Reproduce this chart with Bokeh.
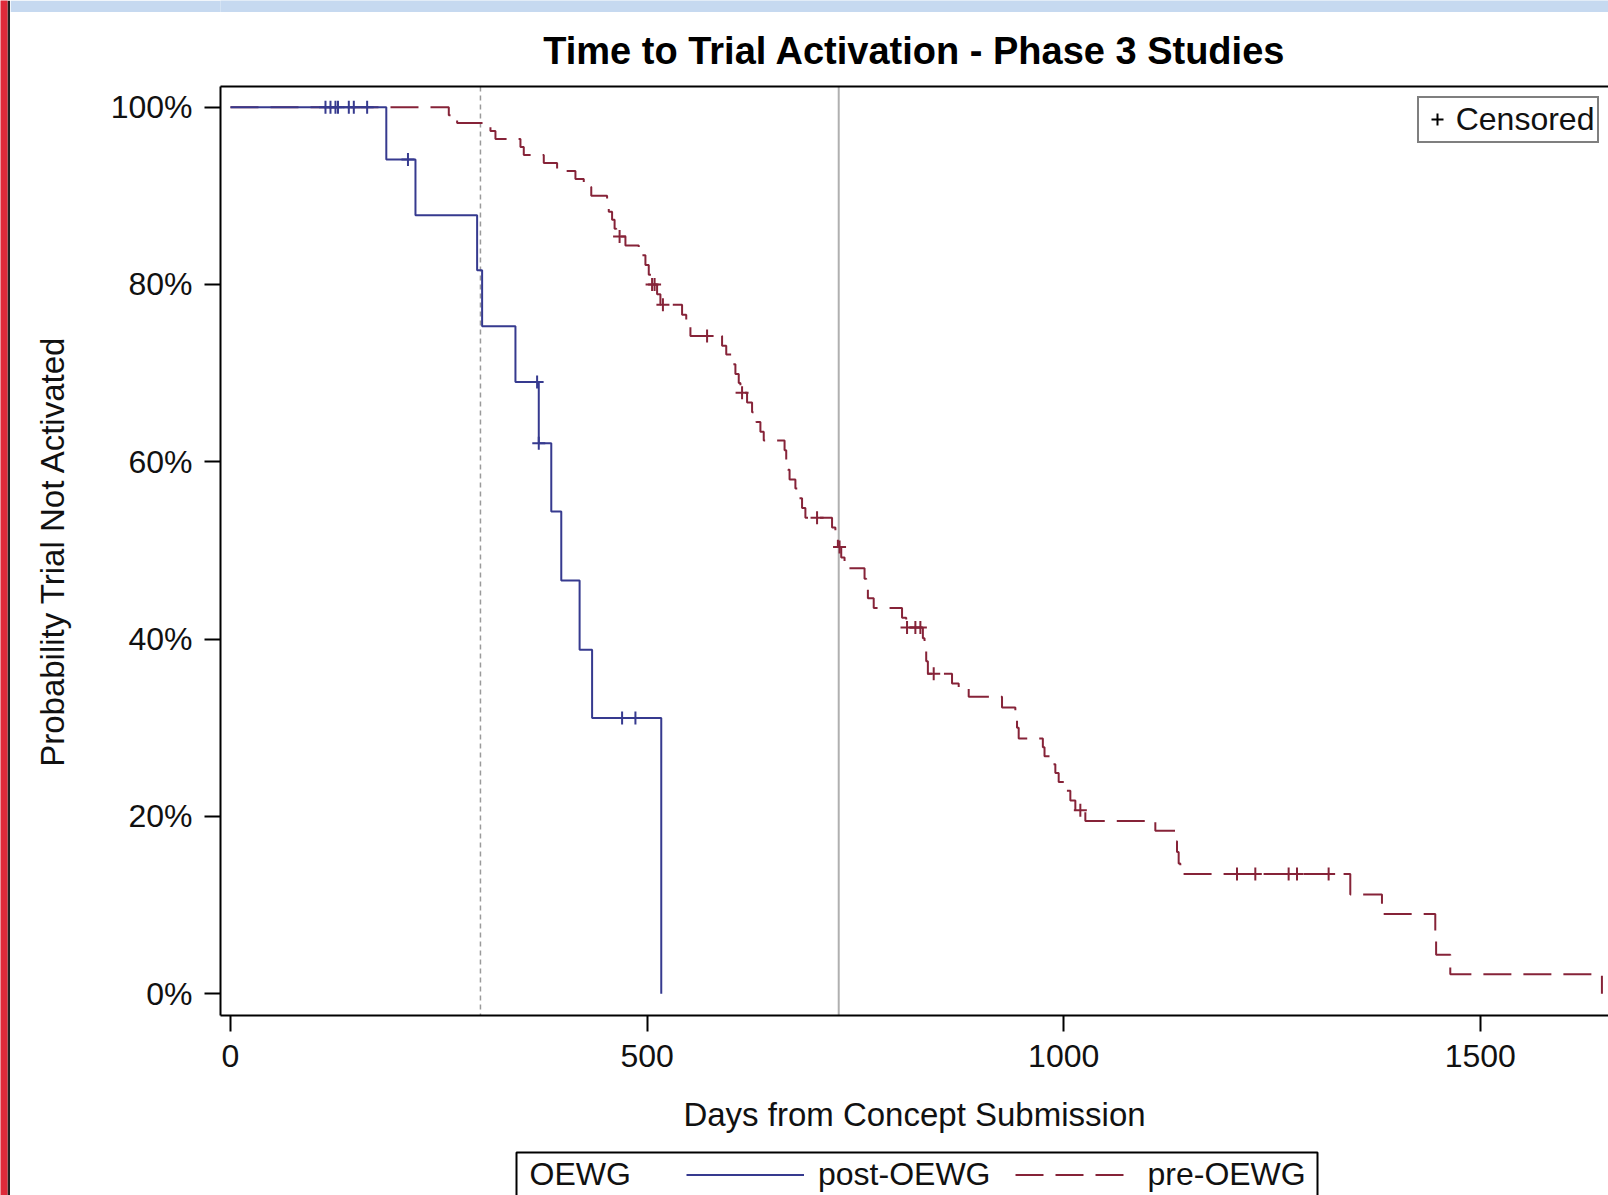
from bokeh.plotting import figure
from bokeh.layouts import row, column
from bokeh.models import (Range1d, LinearAxis, FixedTicker, PrintfTickFormatter, Span,
                          Legend, LegendItem, Label, BoxAnnotation)
from bokeh.embed import file_html
from bokeh.resources import INLINE

# ---------------- data ----------------
post_times = [0, 187, 222, 296, 302, 342, 370, 385, 397, 419, 434, 517]
post_surv = [100.0, 94.1, 87.8, 81.6, 75.3, 69.0, 62.1, 54.4, 46.6, 38.8, 31.1, 0.0]
post_cens_times = [114, 120, 126, 129, 142, 148, 164, 213, 368, 370, 470, 486]
post_cens_surv = [100.0, 100.0, 100.0, 100.0, 100.0, 100.0, 100.0, 94.1, 69.0, 62.1, 31.1, 31.1]

pre_times = [0, 262, 272, 312, 318, 348, 352, 376, 392, 414, 424, 433, 452, 454, 458, 461, 463,
             474, 490, 498, 502, 505, 512, 516, 542, 547, 552, 590, 595, 601, 606, 610, 612,
             620, 626, 631, 636, 640, 665, 667, 669, 671, 678, 682, 686, 690, 722, 726, 729,
             733, 737, 761, 763, 765, 772, 806, 811, 831, 833, 835, 837, 866, 874, 886, 926,
             942, 944, 946, 975, 977, 987, 990, 994, 1003, 1008, 1014, 1026, 1110, 1134, 1136,
             1138, 1140, 1344, 1382, 1446, 1447, 1464, 1646]
pre_surv = [100.0, 99.1, 98.2, 97.3, 96.4, 95.5, 94.6, 93.7, 92.8, 91.9, 91.0, 90.0, 89.1, 88.2,
            87.3, 86.3, 85.4, 84.4, 83.3, 82.2, 81.1, 80.0, 78.9, 77.7, 76.6, 75.4, 74.2, 73.1,
            72.1, 71.0, 69.9, 68.9, 67.8, 66.7, 65.6, 64.5, 63.4, 62.4, 61.3, 60.2, 59.1, 58.0,
            57.0, 55.9, 54.8, 53.7, 52.6, 51.5, 50.4, 49.2, 48.0, 46.8, 45.7, 44.6, 43.5, 42.4,
            41.3, 40.1, 38.9, 37.5, 36.1, 35.0, 34.5, 33.5, 32.3, 31.2, 30.0, 28.8, 27.8, 26.8,
            25.9, 24.9, 23.9, 22.9, 21.8, 20.7, 19.5, 18.4, 17.2, 16.0, 14.7, 13.5, 11.2, 9.0,
            6.7, 4.4, 2.2, 0.0]
pre_cens_times = [467, 506, 509, 519, 572, 614, 704, 731, 812, 822, 828, 844, 1020,
                  1208, 1230, 1270, 1280, 1318]
pre_cens_surv = [85.4, 80.0, 80.0, 77.7, 74.2, 67.8, 53.7, 50.4, 41.3, 41.3, 41.3, 36.1, 20.7,
                 13.5, 13.5, 13.5, 13.5, 13.5]

ref_dotted = 300
ref_solid = 730

y_ticks = [0, 20, 40, 60, 80, 100]
x_ticks = [0, 500, 1000, 1500]

title_text = "Time to Trial Activation - Phase 3 Studies"
x_label = "Days from Concept Submission"
y_label = "Probability Trial Not Activated"
group_title = "OEWG"
post_label = "post-OEWG"
pre_label = "pre-OEWG"
cens_label = "Censored"

# ---------------- styling ----------------
BLUE = "#363a8f"
RED = "#862338"
FONT = "Liberation Sans"
TXT = "#111111"

# main chart: occupies window x 10..1608, y 12..1149
p = figure(frame_width=1388, frame_height=929,
           x_range=Range1d(-12.0, 1653.9), y_range=Range1d(-2.45, 102.33),
           output_backend="svg", toolbar_location=None,
           min_border_left=210, min_border_right=0, min_border_top=74, min_border_bottom=134,
           background_fill_color="white", border_fill_color="white",
           outline_line_color=None)

p.title.text = title_text
p.title.text_font = FONT
p.title.text_font_size = "38px"
p.title.text_font_style = "bold"
p.title.text_color = "black"
p.title.align = "center"
p.title.standoff = 29

p.xgrid.visible = False
p.ygrid.visible = False

for ax in (p.xaxis[0], p.yaxis[0]):
    ax.axis_line_width = 2
    ax.axis_line_color = "black"
    ax.major_tick_line_width = 2
    ax.major_tick_line_color = "black"
    ax.major_tick_in = 0
    ax.major_tick_out = 16
    ax.minor_tick_line_color = None
    ax.major_label_text_font = FONT
    ax.major_label_text_font_size = "32px"
    ax.major_label_text_color = TXT
    ax.axis_label_text_font = FONT
    ax.axis_label_text_font_size = "33px"
    ax.axis_label_text_font_style = "normal"
    ax.axis_label_text_color = TXT

p.xaxis[0].ticker = FixedTicker(ticks=x_ticks)
p.xaxis[0].axis_label = x_label
p.xaxis[0].major_label_standoff = 13
p.xaxis[0].axis_label_standoff = 26

p.yaxis[0].ticker = FixedTicker(ticks=y_ticks)
p.yaxis[0].formatter = PrintfTickFormatter(format="%d%%")
p.yaxis[0].axis_label = y_label
p.yaxis[0].major_label_standoff = 12
p.yaxis[0].axis_label_standoff = 37

top_axis = LinearAxis(ticker=FixedTicker(ticks=[]), axis_line_width=2, axis_line_color="black",
                      major_tick_out=0, major_tick_in=0, minor_tick_line_color=None,
                      major_label_standoff=0)
p.add_layout(top_axis, "above")

# reference lines
p.add_layout(Span(location=ref_dotted, dimension="height", line_color="#9a9a9a",
                  line_dash="5 4", line_width=1.5, level="underlay"))
p.add_layout(Span(location=ref_solid, dimension="height", line_color="#b0b0b0",
                  line_width=2, level="underlay"))

# survival curves
r_pre = p.step(pre_times, pre_surv, mode="after", line_color=RED, line_width=2,
               line_dash="28 12")
r_post = p.step(post_times, post_surv, mode="after", line_color=BLUE, line_width=2)

p.scatter(pre_cens_times, pre_cens_surv, marker="cross", size=13, line_width=2,
          line_color=RED)
p.scatter(post_cens_times, post_cens_surv, marker="cross", size=13, line_width=2,
          line_color=BLUE)
# off-range sample used only as the legend key for "Censored"
r_cens = p.scatter(x=[-500], y=[-50], marker="cross", size=13, line_width=2,
                   line_color="black")

leg_c = Legend(items=[LegendItem(label=cens_label, renderers=[r_cens])],
               location=(1196.7, 872.3), glyph_width=30, glyph_height=30, label_standoff=4,
               padding=3, margin=0, border_line_color="black", border_line_width=2,
               background_fill_color="white", background_fill_alpha=1,
               label_text_font=FONT, label_text_font_size="32px", label_text_color=TXT)
p.add_layout(leg_c)

# ---------------- group legend strip (window y 1149..1195) ----------------
# its frame is aligned with the chart frame: window x 220..1608
q = figure(width=1598, height=46, x_range=Range1d(220, 1608), y_range=Range1d(1195, 1149),
           output_backend="svg", toolbar_location=None, title=None,
           x_axis_location=None, y_axis_location=None,
           min_border_left=210, min_border_right=0, min_border_top=0, min_border_bottom=0,
           outline_line_color=None, background_fill_color="white", border_fill_color="white")
q.xgrid.visible = False
q.ygrid.visible = False
k_post = q.line(x=[-100, -90], y=[0, 0], line_color=BLUE, line_width=2)
k_pre = q.line(x=[-100, -90], y=[0, 0], line_color=RED, line_width=2, line_dash="28 12")
leg_g = Legend(items=[LegendItem(label=post_label, renderers=[k_post]),
                      LegendItem(label=pre_label, renderers=[k_pre])],
               orientation="horizontal", location=(466, 2.5), glyph_width=118,
               glyph_height=37, label_standoff=14, spacing=25, padding=0, margin=0,
               border_line_color=None, background_fill_alpha=0,
               label_text_font=FONT, label_text_font_size="32px", label_text_color=TXT)
q.add_layout(leg_g)
q.add_layout(Label(x=529, y=1173, text=group_title, text_font=FONT,
                   text_font_size="32px", text_color=TXT, text_baseline="middle"))
q.add_layout(BoxAnnotation(left=516, right=1317, top=1152, bottom=1210,
                           fill_alpha=0, line_color="black", line_alpha=1, line_width=2))

# ---------------- screenshot frame remnants ----------------
band = figure(width=1598, height=12, x_range=Range1d(0, 1), y_range=Range1d(0, 1),
              output_backend="svg", toolbar_location=None, title=None,
              x_axis_location=None, y_axis_location=None,
              min_border_left=0, min_border_right=0, min_border_top=0, min_border_bottom=0,
              outline_line_color=None, background_fill_color="#c6d9f0",
              border_fill_color="#c6d9f0")
band.xgrid.visible = False
band.ygrid.visible = False

stripe = figure(width=10, height=1195, x_range=Range1d(0, 1), y_range=Range1d(0, 1),
                output_backend="svg", toolbar_location=None, title=None,
                x_axis_location=None, y_axis_location=None,
                min_border_left=0, min_border_right=3, min_border_top=0, min_border_bottom=0,
                outline_line_color=None, background_fill_color="#de2a3a",
                border_fill_color="#222222")
stripe.xgrid.visible = False
stripe.ygrid.visible = False

layout = row(stripe, column(band, p, q, spacing=0), spacing=0)

open("out.html", "w").write(file_html(layout, INLINE))
